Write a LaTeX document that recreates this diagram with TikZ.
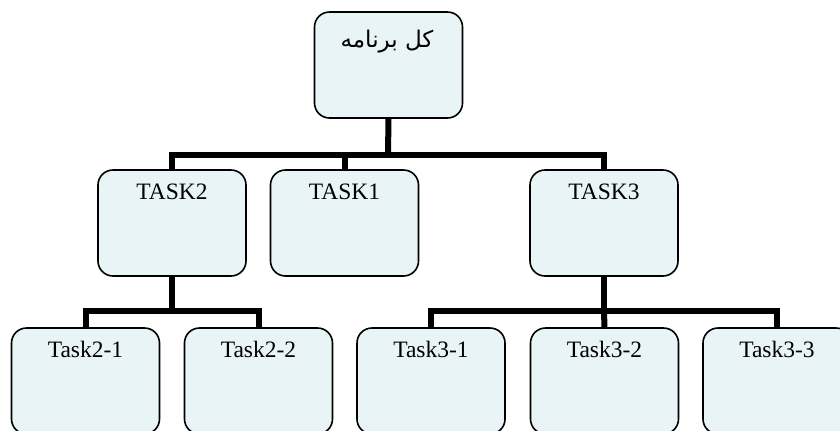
\documentclass[tikz,border=0pt]{standalone}
\usepackage{fontspec}
\setmainfont{Liberation Serif}
\newfontfamily\arabicfont[Script=Arabic]{DejaVu Sans}
\TeXXeTstate=1
\definecolor{boxfill}{RGB}{232,244,245}
\tikzset{
  box/.style={draw=black, line width=1.6bp, fill=boxfill, rounded corners=15bp,
    minimum width=148bp, minimum height=106bp, inner sep=0pt, outer sep=0pt},
  lbl/.style={anchor=base, inner sep=0pt, font=\fontsize{23.5bp}{27bp}\selectfont},
  conn/.style={draw=black, line width=6bp}
}
\begin{document}
\begin{tikzpicture}[x=1bp, y=-1bp]
\useasboundingbox (0,0) rectangle (840,430);
\coordinate (b1) at (388,155);
\coordinate (b2) at (172,311);
\coordinate (b3) at (604,311);
% boxes
\node[box] (root) at (388.5,65) {};
\node[box] (t2) at (172,223) {};
\node[box] (t1) at (344.5,223) {};
\node[box] (t3) at (604,223) {};
\node[box] (t21) at (85.5,381) {};
\node[box] (t22) at (258.5,381) {};
\node[box] (t31) at (431,381) {};
\node[box] (t32) at (604.5,381) {};
\node[box] (t33) at (777,381) {};
% connectors
\draw[conn] (root.south) -- (b1);
\draw[conn] (t2.north) |- (b1);
\draw[conn] (t1.north) |- (b1);
\draw[conn] (t3.north) |- (b1);
\draw[conn] (t2.south) -- (b2);
\draw[conn] (t21.north) |- (b2);
\draw[conn] (t22.north) |- (b2);
\draw[conn] (t3.south) -- (b3);
\draw[conn] (t31.north) |- (b3);
\draw[conn] (t32.north) -- (b3);
\draw[conn] (t33.north) |- (b3);
% labels
\node[anchor=center, inner sep=0pt, font=\fontsize{23bp}{27bp}\selectfont] (rootl) at (387,42) {\arabicfont\beginR کل برنامه\endR};
\node[lbl] (t2l) at ([yshift=-29bp]t2.north) {TASK2};
\node[lbl] (t1l) at ([yshift=-29bp]t1.north) {TASK1};
\node[lbl] (t3l) at ([yshift=-29bp]t3.north) {TASK3};
\node[lbl] (t21l) at ([yshift=-29bp]t21.north) {Task2-1};
\node[lbl] (t22l) at ([yshift=-29bp]t22.north) {Task2-2};
\node[lbl] (t31l) at ([yshift=-29bp]t31.north) {Task3-1};
\node[lbl] (t32l) at ([yshift=-29bp]t32.north) {Task3-2};
\node[lbl] (t33l) at ([yshift=-29bp]t33.north) {Task3-3};
\end{tikzpicture}
\end{document}
